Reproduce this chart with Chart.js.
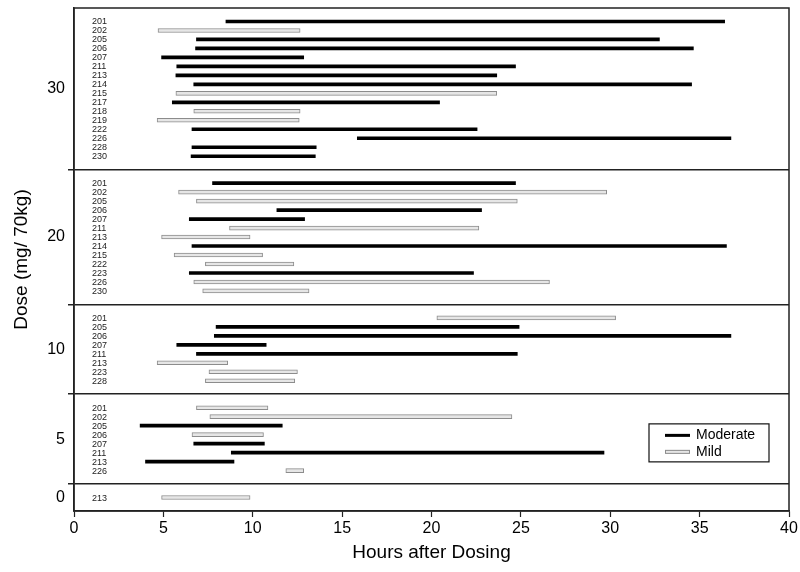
<!DOCTYPE html>
<html>
<head>
<meta charset="utf-8">
<script src="https://cdn.jsdelivr.net/npm/chart.js@4.4.1/dist/chart.umd.min.js"></script>
<style>
  html, body { margin: 0; padding: 0; background: #fff; }
  #wrap { width: 800px; height: 572px; }
</style>
</head>
<body>
<div id="wrap"><canvas id="c" width="800" height="572"></canvas></div>
<script>
// ---------- DATA ----------
const doses = [30, 20, 10, 5, 0];
const xTicks = [0, 5, 10, 15, 20, 25, 30, 35, 40];

const subj30  = ['201','202','205','206','207','211','213','214','215','217','218','219','222','226','228','230'];
const start30 = [8.5, 4.7, 6.85, 6.8, 4.9, 5.75, 5.7, 6.7, 5.7, 5.5, 6.7, 4.65, 6.6, 15.85, 6.6, 6.55];
const end30   = [36.4, 12.65, 32.75, 34.65, 12.85, 24.7, 23.65, 34.55, 23.65, 20.45, 12.65, 12.6, 22.55, 36.75, 13.55, 13.5];
const sev30   = ['Moderate','Mild','Moderate','Moderate','Moderate','Moderate','Moderate','Moderate','Mild','Moderate','Mild','Mild','Moderate','Moderate','Moderate','Moderate'];

const subj20  = ['201','202','205','206','207','211','213','214','215','222','223','226','230'];
const start20 = [7.75, 5.85, 6.85, 11.35, 6.45, 8.7, 4.9, 6.6, 5.6, 7.35, 6.45, 6.7, 7.2];
const end20   = [24.7, 29.8, 24.8, 22.8, 12.9, 22.65, 9.85, 36.5, 10.55, 12.3, 22.35, 26.6, 13.15];
const sev20   = ['Moderate','Mild','Mild','Moderate','Moderate','Mild','Mild','Moderate','Mild','Mild','Moderate','Mild','Mild'];

const subj10  = ['201','205','206','207','211','213','223','228'];
const start10 = [20.3, 7.95, 7.85, 5.75, 6.85, 4.65, 7.55, 7.35];
const end10   = [30.3, 24.9, 36.75, 10.75, 24.8, 8.6, 12.5, 12.35];
const sev10   = ['Mild','Moderate','Moderate','Moderate','Moderate','Mild','Mild','Mild'];

const subj5   = ['201','202','205','206','207','211','213','226'];
const start5  = [6.85, 7.6, 3.7, 6.6, 6.7, 8.8, 4.0, 11.85];
const end5    = [10.85, 24.5, 11.65, 10.6, 10.65, 29.65, 8.95, 12.85];
const sev5    = ['Mild','Mild','Moderate','Mild','Moderate','Moderate','Moderate','Mild'];

const subj0   = ['213'];
const start0  = [4.9];
const end0    = [9.85];
const sev0    = ['Mild'];

const panels = [
  { dose: 30, subj: subj30, start: start30, end: end30, sev: sev30 },
  { dose: 20, subj: subj20, start: start20, end: end20, sev: sev20 },
  { dose: 10, subj: subj10, start: start10, end: end10, sev: sev10 },
  { dose: 5,  subj: subj5,  start: start5,  end: end5,  sev: sev5  },
  { dose: 0,  subj: subj0,  start: start0,  end: end0,  sev: sev0  }
];

// ---------- build row layout (row units) ----------
const PAD = 1.5;
const boundaries = [0];
const centers = [];
const labelMap = {};
const rowLabels = [];
const modData = [], mildData = [];
let cursor = 0;
panels.forEach(p => {
  const n = p.subj.length;
  const h = (n - 1) + 2 * PAD;
  const top = cursor;
  p.subj.forEach((s, i) => {
    const y = top + PAD + i;
    rowLabels.push({ y: y, text: s });
    const pt = { x: [p.start[i], p.end[i]], y: y };
    if (p.sev[i] === 'Moderate') modData.push(pt); else mildData.push(pt);
  });
  cursor += h;
  const c = top + h / 2;
  centers.push(c);
  labelMap[c.toFixed(4)] = String(p.dose);
  boundaries.push(cursor);
});
const total = cursor;
const innerBounds = boundaries.slice(1, -1);
const boundSet = new Set(innerBounds.map(v => v.toFixed(4)));
const tickVals = boundaries.concat(centers).sort((a, b) => a - b);

const FRAME = '#222';

const decorPlugin = {
  id: 'decor',
  afterDatasetsDraw(chart) {
    const ctx = chart.ctx, ca = chart.chartArea, ys = chart.scales.y;
    ctx.save();
    // subject labels
    ctx.font = '9px "Liberation Sans", Arial, sans-serif';
    ctx.fillStyle = '#222';
    ctx.textAlign = 'left';
    ctx.textBaseline = 'middle';
    rowLabels.forEach(r => {
      ctx.fillText(r.text, ca.left + 18, ys.getPixelForValue(r.y) + 0.5);
    });
    // frame
    ctx.strokeStyle = FRAME;
    ctx.lineWidth = 1.5;
    ctx.strokeRect(ca.left, ca.top, ca.right - ca.left, ca.bottom - ca.top);
    // legend box
    const lx = ca.right - 140, ly = ys.getPixelForValue(boundaries[3] + 3.3);
    const lw = 120, lh = 38;
    ctx.fillStyle = '#fff';
    ctx.fillRect(lx, ly, lw, lh);
    ctx.lineWidth = 1.2;
    ctx.strokeStyle = '#111';
    ctx.strokeRect(lx, ly, lw, lh);
    ctx.fillStyle = '#000';
    ctx.fillRect(lx + 16, ly + 10, 25, 3);
    ctx.fillStyle = '#e6e6e6';
    ctx.fillRect(lx + 16, ly + 26, 25, 4);
    ctx.strokeStyle = '#8c8c8c';
    ctx.lineWidth = 1;
    ctx.strokeRect(lx + 16.5, ly + 26.5, 24, 3);
    ctx.fillStyle = '#000';
    ctx.font = '14px "Liberation Sans", Arial, sans-serif';
    ctx.textBaseline = 'middle';
    ctx.fillText('Moderate', lx + 47, ly + 11.5);
    ctx.fillText('Mild', lx + 47, ly + 28);
    ctx.restore();
  }
};

new Chart(document.getElementById('c'), {
  type: 'bar',
  data: {
    datasets: [
      {
        label: 'Moderate',
        data: modData,
        backgroundColor: '#000',
        borderWidth: 0,
        barThickness: 3,
        grouped: false
      },
      {
        label: 'Mild',
        data: mildData,
        backgroundColor: '#e6e6e6',
        borderColor: '#8c8c8c',
        borderWidth: 1,
        borderSkipped: false,
        barThickness: 4,
        grouped: false
      }
    ]
  },
  options: {
    responsive: false,
    animation: false,
    indexAxis: 'y',
    layout: { padding: { top: 8, right: 11, left: 0, bottom: 0 } },
    plugins: { legend: { display: false }, tooltip: { enabled: false } },
    scales: {
      x: {
        type: 'linear',
        min: 0, max: 40,
        afterBuildTicks: s => { s.ticks = xTicks.map(v => ({ value: v })); },
        afterFit: s => { s.height = 61; s.paddingLeft = 0; s.paddingRight = 0; },
        ticks: { color: '#000', font: { size: 16, family: '"Liberation Sans", Arial, sans-serif' }, padding: 2, maxRotation: 0 },
        grid: { drawOnChartArea: false, tickLength: 6, tickColor: FRAME, tickWidth: 1.2 },
        border: { color: FRAME, width: 1.5 },
        title: {
          display: true, text: 'Hours after Dosing', color: '#000',
          font: { size: 19, family: '"Liberation Sans", Arial, sans-serif' },
          padding: { top: 0, bottom: 8 }
        }
      },
      y: {
        type: 'linear',
        reverse: true,
        offset: false,
        min: 0, max: total,
        afterBuildTicks: s => { s.ticks = tickVals.map(v => ({ value: v })); },
        afterFit: s => { s.width = 74; s.paddingTop = 0; s.paddingBottom = 0; },
        ticks: {
          autoSkip: false,
          color: '#000',
          font: { size: 16, family: '"Liberation Sans", Arial, sans-serif' },
          padding: 3,
          callback: v => labelMap[Number(v).toFixed(4)] || ''
        },
        grid: {
          drawOnChartArea: true,
          offset: false,
          tickLength: 6,
          lineWidth: 1.5,
          color: c => (c.tick && boundSet.has(c.tick.value.toFixed(4))) ? FRAME : 'rgba(0,0,0,0)',
          tickColor: c => (c.tick && boundSet.has(c.tick.value.toFixed(4))) ? FRAME : 'rgba(0,0,0,0)'
        },
        border: { color: FRAME, width: 1.5 },
        title: {
          display: true, text: 'Dose (mg/ 70kg)', color: '#000',
          font: { size: 19, family: '"Liberation Sans", Arial, sans-serif' },
          padding: { top: 10, bottom: 0 }
        }
      }
    }
  },
  plugins: [decorPlugin]
});
</script>
</body>
</html>
